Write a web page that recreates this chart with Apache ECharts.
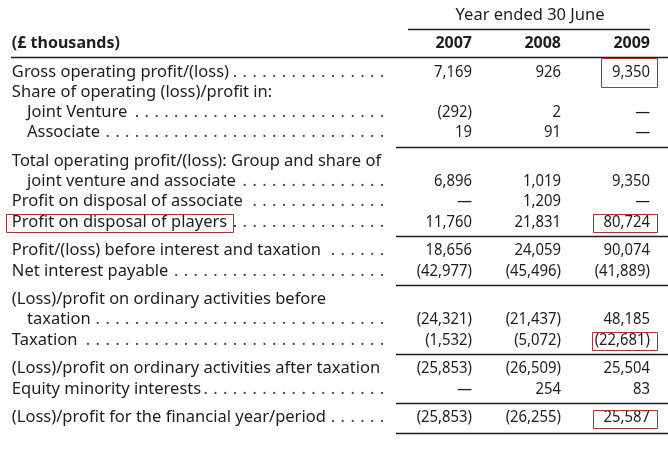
<!DOCTYPE html>
<html><head><meta charset="utf-8">
<script src="https://cdn.jsdelivr.net/npm/echarts@6/dist/echarts.min.js"></script>
<style>html,body{margin:0;padding:0;background:#fff}#c{width:668px;height:452px}</style>
</head><body><div id="c"></div>
<script>
// ---------- DATA ----------
const headerTitle = 'Year ended 30 June';
const unitLabel = '(£ thousands)';
const years = ['2007', '2008', '2009'];
const rowLabels = [
  'Gross operating profit/(loss)',
  'Share of operating (loss)/profit in:',
  'Joint Venture',
  'Associate',
  'Total operating profit/(loss): Group and share of',
  'joint venture and associate',
  'Profit on disposal of associate',
  'Profit on disposal of players',
  'Profit/(loss) before interest and taxation',
  'Net interest payable',
  '(Loss)/profit on ordinary activities before',
  'taxation',
  'Taxation',
  '(Loss)/profit on ordinary activities after taxation',
  'Equity minority interests',
  '(Loss)/profit for the financial year/period'
];
const rowIndent   = [0,0,1,1,0,1,0,0,0,0,0,1,0,0,0,0];
const rowRuleBefore = [0,0,0,0,1,0,0,0,1,0,1,0,0,1,0,1];
// null = no figure, 0 = nil (shown as a dash)
const v2007 = [7169, null, -292, 19, null, 6896, 0, 11760, 18656, -42977, null, -24321, -1532, -25853, 0, -25853];
const v2008 = [926, null, 2, 91, null, 1019, 1209, 21831, 24059, -45496, null, -21437, -5072, -26509, 254, -26255];
const v2009 = [9350, null, 0, 0, null, 9350, 0, 80724, 90074, -41889, null, 48185, -22681, 25504, 83, 25587];
const highlightedCells = [[7, 2], [12, 2], [15, 2], [0, 2]]; // [row, column]
const highlightedLabels = [7];

// ---------- LAYOUT / STYLE ----------
const columns = [v2007, v2008, v2009];
const PITCH = 20.2, SEP = 8.5;
const LFONT = '16.5px "Noto Sans"', NFONT = '16.5px "Noto Sans"', NSCALE = 0.9;
const HFONT = '16.5px "Noto Sans"', BOLD = 'bold 16px "Noto Sans"';
const INK = '#1e1e1e', BOX = '#a8343f';
const COL_PX = 89;               // px per column unit
const LABEL_X = -5.17, INDENT_X = -5.0, DOTS_END = -1.011;
const TITLE_RULE_X0 = -0.72, FULL_RULE_X0 = -5.18, SEP_X0 = -0.854, RULE_X1 = 2.21;
const YEARS_Y = -1.43, TITLE_Y = -2.82, TITLE_RULE_Y = -2.13, FULL_RULE_Y = -0.73;

const rowY = [];
let acc = 0;
rowLabels.forEach((_, i) => { if (rowRuleBefore[i]) acc += SEP / PITCH; rowY.push(i + acc); });
const yMax = rowY[rowY.length - 1];
const rulesY = [];
rowLabels.forEach((_, i) => { if (rowRuleBefore[i]) rulesY.push((rowY[i - 1] + rowY[i]) / 2); });
rulesY.push(yMax + 0.77);

const ctx = document.createElement('canvas').getContext('2d');
function tw(t, f) { ctx.font = f; return ctx.measureText(t).width; }
function fmt(v) {
  if (v === null) return '';
  if (v === 0) return '—';
  const s = Math.abs(v).toLocaleString('en-US');
  return v < 0 ? '(' + s + ')' : s;
}
function txt(x, y, text, font, align, fill, sx) {
  return { type: 'text', x: x, y: y, scaleX: sx || 1, style: { text: text, font: font, fill: fill || INK, textAlign: align, textVerticalAlign: 'middle' } };
}
function line(a, b, w, color) {
  return { type: 'line', shape: { x1: a[0], y1: Math.round(a[1]) + 0.5, x2: b[0], y2: Math.round(b[1]) + 0.5 }, style: { stroke: color || INK, lineWidth: w || 1.3 } };
}

const chart = echarts.init(document.getElementById('c'), null, { renderer: 'canvas' });
chart.setOption({
  animation: false,
  backgroundColor: '#fff',
  grid: { left: 472, width: 2 * COL_PX, top: 72, height: yMax * PITCH },
  xAxis: { type: 'value', min: 0, max: 2, show: false },
  yAxis: { type: 'value', min: 0, max: yMax, inverse: true, show: false },
  series: [
    { // header
      type: 'custom', clip: false, silent: true, data: [0],
      renderItem: function (params, api) {
        const ch = [];
        const t = api.coord([0.652, TITLE_Y]);
        ch.push(txt(t[0], t[1], headerTitle, HFONT, 'center'));
        ch.push(line(api.coord([TITLE_RULE_X0, TITLE_RULE_Y]), api.coord([2, TITLE_RULE_Y])));
        const u = api.coord([LABEL_X, YEARS_Y]);
        ch.push(txt(u[0], u[1], unitLabel, BOLD, 'left'));
        years.forEach((yr, c) => { const p = api.coord([c, YEARS_Y]); ch.push(txt(p[0], p[1], yr, BOLD, 'right')); });
        ch.push(line(api.coord([FULL_RULE_X0, FULL_RULE_Y]), api.coord([RULE_X1, FULL_RULE_Y])));
        return { type: 'group', children: ch };
      }
    },
    { // rows
      type: 'custom', clip: false, silent: true,
      data: rowLabels.map((_, i) => [i]),
      renderItem: function (params, api) {
        const i = api.value(0);
        const y = rowY[i];
        const ch = [];
        const lp = api.coord([rowIndent[i] ? INDENT_X : LABEL_X, y]);
        ch.push(txt(lp[0], lp[1], rowLabels[i], LFONT, 'left'));
        const hasVals = columns.some(col => col[i] !== null);
        if (hasVals) {
          const end = lp[0] + tw(rowLabels[i], LFONT) + 4;
          const dEnd = api.coord([DOTS_END, y])[0];
          for (let x = dEnd; x > end; x -= 9.8) ch.push(txt(x, lp[1], '.', LFONT, 'center', '#444'));
        }
        columns.forEach((col, c) => {
          const p = api.coord([c, y]);
          ch.push(txt(p[0], p[1], fmt(col[i]), NFONT, 'right', INK, NSCALE));
        });
        return { type: 'group', children: ch };
      }
    },
    { // rules
      type: 'custom', clip: false, silent: true,
      data: rulesY.map(v => [v]),
      renderItem: function (params, api) {
        const v = api.value(0);
        return line(api.coord([SEP_X0, v]), api.coord([RULE_X1, v]));
      }
    },
    { // highlight boxes
      type: 'custom', clip: false, silent: true, z: 5,
      data: highlightedCells.map(c => [c[0], c[1]]).concat(highlightedLabels.map(r => [r, -1])),
      renderItem: function (params, api) {
        const r = api.value(0), c = api.value(1);
        const y = rowY[r];
        let x0, x1, top, bot;
        const cy = api.coord([0, y])[1];
        if (c < 0) {
          const p = api.coord([rowIndent[r] ? INDENT_X : LABEL_X, y]);
          x0 = p[0] - 6; x1 = p[0] + tw(rowLabels[r], LFONT) + 6;
        } else {
          const p = api.coord([c, y]);
          const s = fmt(columns[c][r]);
          const padL = s.charAt(0) === '(' ? 3 : 11;
          x0 = p[0] - tw(s, NFONT) * NSCALE - padL; x1 = p[0] + 7;
        }
        top = cy - 8; bot = cy + 10.5;
        if (r === 0) { top = api.coord([0, FULL_RULE_Y])[1] + 1; bot = cy + 15; }
        const L = Math.round(x0) + 0.5, R = Math.round(x1) + 0.5, T = Math.round(top) + 0.5, B = Math.round(bot) + 0.5;
        return {
          type: 'polygon',
          shape: { points: [[L, T], [R, T], [R, B], [L, B]] },
          style: { fill: null, stroke: BOX, lineWidth: 1, opacity: 1 }
        };
      }
    }
  ]
});
</script></body></html>
